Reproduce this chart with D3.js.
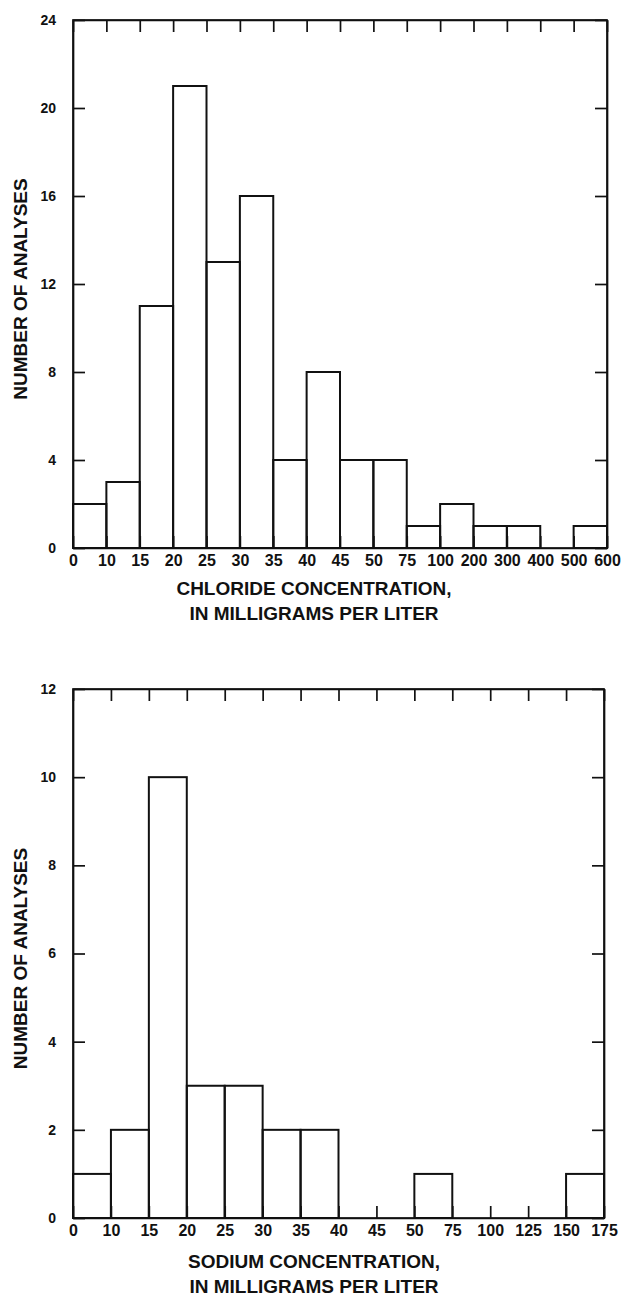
<!DOCTYPE html>
<html>
<head>
<meta charset="utf-8">
<script src="https://cdn.jsdelivr.net/npm/d3@7"></script>
<style>
  html, body { margin: 0; padding: 0; background: #fff; }
  svg { display: block; }
  text { font-family: "Liberation Sans", Arial, Helvetica, sans-serif; fill: #111; }
</style>
</head>
<body>
<svg id="chart" width="626" height="1296"></svg>
<script>
// ---- Data ----
const chlorideEdges = ["0","10","15","20","25","30","35","40","45","50","75","100","200","300","400","500","600"];
const chlorideCounts = [2,3,11,21,13,16,4,8,4,4,1,2,1,1,0,1];
const chlorideYTicks = [0,4,8,12,16,20,24];
const chlorideTitle = ["CHLORIDE CONCENTRATION,", "IN MILLIGRAMS PER LITER"];

const sodiumEdges = ["0","10","15","20","25","30","35","40","45","50","75","100","125","150","175"];
const sodiumCounts = [1,2,10,3,3,2,2,0,0,1,0,0,0,1];
const sodiumYTicks = [0,2,4,6,8,10,12];
const sodiumTitle = ["SODIUM CONCENTRATION,", "IN MILLIGRAMS PER LITER"];

const yTitle = "NUMBER OF ANALYSES";

const svg = d3.select("#chart");

function drawPanel(cfg) {
  const { left, right, top, bottom, edges, counts, yTicks, title, titleY, titleX } = cfg;
  const nb = counts.length;
  const x = d3.scaleLinear().domain([0, nb]).range([left, right]);
  const y = d3.scaleLinear().domain([0, d3.max(yTicks)]).range([bottom, top]);
  const g = svg.append("g");
  const tickLen = 12;

  // bars
  g.selectAll("rect.bar")
    .data(counts.map((c, i) => ({ c, i })).filter(d => d.c > 0))
    .enter().append("rect")
    .attr("class", "bar")
    .attr("x", d => x(d.i))
    .attr("width", d => x(d.i + 1) - x(d.i))
    .attr("y", d => y(d.c))
    .attr("height", d => y(0) - y(d.c))
    .attr("fill", "none")
    .attr("stroke", "#111")
    .attr("stroke-width", 2);

  const idx = d3.range(nb + 1);

  // bottom axis (inward ticks, labels)
  const ax = g.append("g").attr("transform", `translate(0,${bottom})`)
    .call(d3.axisBottom(x).tickValues(idx).tickSizeInner(-tickLen).tickSizeOuter(0)
      .tickPadding(5).tickFormat(i => edges[i]));
  ax.attr("font-size", 16).attr("font-family", '"Liberation Sans", Arial, sans-serif');
  ax.selectAll("text").style("font-size", "16px").style("font-weight", "bold")
    .attr("dy", "0.8em");

  // top axis
  g.append("g").attr("transform", `translate(0,${top})`)
    .call(d3.axisTop(x).tickValues(idx).tickSizeInner(-tickLen).tickSizeOuter(0).tickFormat(""));

  // left axis
  const ay = g.append("g").attr("transform", `translate(${left},0)`)
    .call(d3.axisLeft(y).tickValues(yTicks).tickSizeInner(-tickLen).tickSizeOuter(0)
      .tickPadding(17).tickFormat(d3.format("d")));
  ay.attr("font-family", '"Liberation Sans", Arial, sans-serif');
  ay.selectAll("text").style("font-size", "14px").style("font-weight", "bold");

  // right axis
  g.append("g").attr("transform", `translate(${right},0)`)
    .call(d3.axisRight(y).tickValues(yTicks).tickSizeInner(-tickLen).tickSizeOuter(0).tickFormat(""));

  g.selectAll(".domain").attr("stroke", "#111").attr("stroke-width", 1.7);
  g.selectAll(".tick line").attr("stroke", "#111").attr("stroke-width", 1.7);

  // frame
  g.append("rect").attr("x", left).attr("y", top)
    .attr("width", right - left).attr("height", bottom - top)
    .attr("fill", "none").attr("stroke", "#111").attr("stroke-width", 1.7);

  // x title
  title.forEach((t, k) => {
    g.append("text").attr("x", titleX).attr("y", titleY + k * 25)
      .attr("text-anchor", "middle").style("font-size", "19px").style("font-weight", "bold")
      .text(t);
  });

  // y title
  const cy = (top + bottom) / 2 + 5;
  g.append("text").attr("transform", `translate(27,${cy}) rotate(-90)`)
    .attr("text-anchor", "middle").style("font-size", "19px").style("font-weight", "bold")
    .text(yTitle);
}

drawPanel({ left: 73, right: 607, top: 20, bottom: 548,
  edges: chlorideEdges, counts: chlorideCounts, yTicks: chlorideYTicks,
  title: chlorideTitle, titleY: 595, titleX: 314 });

drawPanel({ left: 73, right: 604, top: 689, bottom: 1218,
  edges: sodiumEdges, counts: sodiumCounts, yTicks: sodiumYTicks,
  title: sodiumTitle, titleY: 1268, titleX: 314 });
</script>
</body>
</html>
